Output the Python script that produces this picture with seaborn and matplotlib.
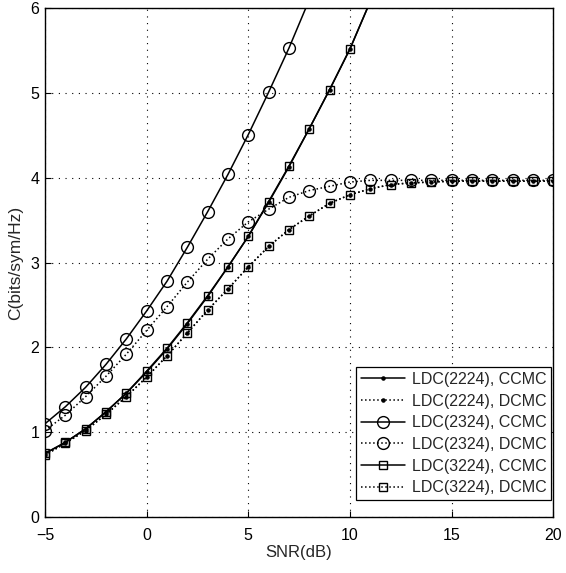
import matplotlib
matplotlib.use("Agg")
import matplotlib.pyplot as plt
import seaborn as sns
import numpy as np
import pandas as pd

sns.set_style("white")
plt.rcParams['font.family'] = ['Liberation Sans', 'DejaVu Sans']

snr_2324_cc = [-5, -4, -3, -2, -1, 0, 1, 2, 3, 4, 5, 6, 7, 8]
cap_2324_cc = [1.10, 1.30, 1.53, 1.80, 2.10, 2.43, 2.78, 3.18, 3.60, 4.04, 4.51, 5.01, 5.53, 6.10]

snr_cc = [-5, -4, -3, -2, -1, 0, 1, 2, 3, 4, 5, 6, 7, 8, 9, 10, 11]
cap_2224_cc = [0.75, 0.88, 1.04, 1.24, 1.46, 1.71, 1.98, 2.28, 2.60, 2.95, 3.31, 3.71, 4.13, 4.58, 5.04, 5.52, 6.08]
cap_3224_cc = [0.75, 0.88, 1.04, 1.24, 1.46, 1.72, 1.99, 2.29, 2.61, 2.95, 3.31, 3.72, 4.14, 4.58, 5.04, 5.52, 6.08]

snr_dc = list(range(-5, 21))
cap_2324_dc = [1.02, 1.20, 1.42, 1.66, 1.92, 2.20, 2.48, 2.77, 3.04, 3.28, 3.48, 3.63, 3.77, 3.85, 3.90,
               3.95, 3.97, 3.97, 3.97, 3.97, 3.97, 3.97, 3.97, 3.97, 3.97, 3.97]
cap_2224_dc = [0.73, 0.87, 1.02, 1.21, 1.42, 1.65, 1.90, 2.17, 2.44, 2.69, 2.95, 3.19, 3.39, 3.55, 3.70,
               3.80, 3.87, 3.92, 3.94, 3.95, 3.96, 3.96, 3.96, 3.96, 3.96, 3.96]
cap_3224_dc = [0.73, 0.87, 1.02, 1.21, 1.42, 1.65, 1.90, 2.17, 2.44, 2.69, 2.95, 3.19, 3.39, 3.55, 3.70,
               3.80, 3.87, 3.92, 3.94, 3.95, 3.96, 3.96, 3.96, 3.96, 3.96, 3.96]

labels = ["LDC(2224), CCMC", "LDC(2224), DCMC", "LDC(2324), CCMC",
          "LDC(2324), DCMC", "LDC(3224), CCMC", "LDC(3224), DCMC"]

fig = plt.figure(figsize=(5.66, 5.73), dpi=100)
ax = fig.add_axes([0.0795, 0.0977, 0.898, 0.888])

series = [
    (snr_cc, cap_2224_cc, '-', '.', 4.5, labels[0]),
    (snr_dc, cap_2224_dc, ':', '.', 4.5, labels[1]),
    (snr_2324_cc, cap_2324_cc, '-', 'o', 8.5, labels[2]),
    (snr_dc, cap_2324_dc, ':', 'o', 8.5, labels[3]),
    (snr_cc, cap_3224_cc, '-', 's', 5.5, labels[4]),
    (snr_dc, cap_3224_dc, ':', 's', 5.5, labels[5]),
]
for x, y, ls, mk, ms, lab in series:
    df = pd.DataFrame({"x": x, "y": y})
    sns.lineplot(data=df, x="x", y="y", ax=ax, color="black", linestyle=ls,
                 marker=mk, markersize=ms, markerfacecolor="none" if mk != '.' else "black",
                 markeredgecolor="black", markeredgewidth=1.0, linewidth=1.1, label=lab)

ax.set_xlim(-5, 20)
ax.set_ylim(0, 6)
ax.set_xticks([-5, 0, 5, 10, 15, 20])
ax.set_yticks([0, 1, 2, 3, 4, 5, 6])
ax.grid(True, color="black", linestyle=(0, (1, 5)), linewidth=0.8)
ax.tick_params(direction="in", length=4, labelsize=11.5, colors="black", bottom=True, left=True)
ax.tick_params(axis="x", pad=8)
ax.tick_params(axis="y", pad=4)
for s in ax.spines.values():
    s.set_color("black")
    s.set_linewidth(1.0)
ax.set_xlabel("SNR(dB)", fontsize=12, labelpad=1)
ax.set_ylabel("C(bits/sym/Hz)", fontsize=12.5, labelpad=5)

leg = ax.legend(loc="lower right", bbox_to_anchor=(0.996, 0.033), fontsize=11.5,
                frameon=True, fancybox=False, edgecolor="black", framealpha=1,
                handlelength=2.8, borderpad=0.3, labelspacing=0.42, handletextpad=0.4,
                borderaxespad=0.0)
leg.get_frame().set_linewidth(0.9)

fig.savefig("out.png", dpi=100)
